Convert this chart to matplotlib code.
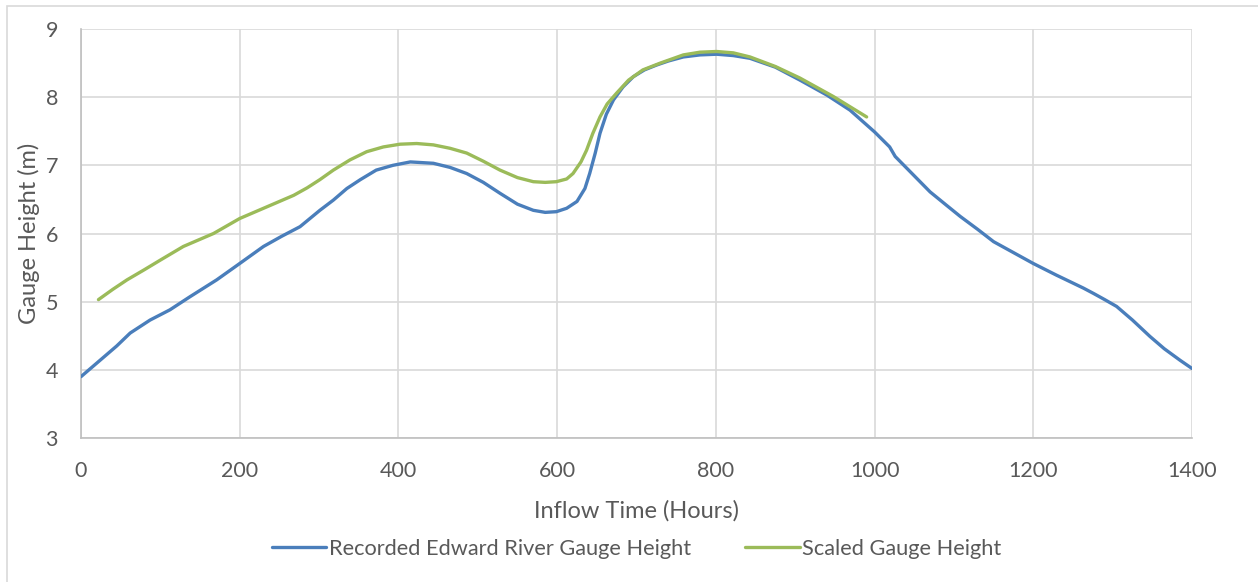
import matplotlib
matplotlib.use("Agg")
import matplotlib.pyplot as plt
from matplotlib.patches import Rectangle

hours_recorded = [0, 24, 45, 62, 87, 112, 137, 171, 200, 230, 253, 276, 301, 318, 335,
                  352, 372, 393, 415, 444, 465, 486, 507, 528, 550, 570, 585, 599, 612,
                  625, 635, 641, 648, 654, 662, 671, 683, 696, 710, 725, 740, 759, 780,
                  801, 822, 843, 875, 906, 940, 969, 1000, 1019, 1026, 1048, 1070, 1090,
                  1108, 1130, 1150, 1175, 1200, 1229, 1263, 1276, 1290, 1305, 1325, 1347,
                  1365, 1385, 1400]
gauge_recorded = [3.90, 4.14, 4.35, 4.54, 4.73, 4.88, 5.07, 5.32, 5.56, 5.81, 5.96, 6.10,
                  6.34, 6.49, 6.66, 6.79, 6.93, 7.00, 7.05, 7.03, 6.97, 6.88, 6.75, 6.59,
                  6.43, 6.34, 6.31, 6.32, 6.37, 6.47, 6.66, 6.88, 7.18, 7.47, 7.75, 7.96,
                  8.15, 8.30, 8.40, 8.47, 8.53, 8.59, 8.62, 8.63, 8.61, 8.57, 8.44, 8.25,
                  8.03, 7.81, 7.49, 7.27, 7.13, 6.87, 6.61, 6.42, 6.25, 6.06, 5.88, 5.72,
                  5.56, 5.39, 5.20, 5.12, 5.03, 4.93, 4.73, 4.49, 4.31, 4.14, 4.02]

hours_scaled = [22, 40, 58, 80, 100, 129, 167, 200, 234, 268, 285, 301, 318, 339, 360,
                381, 402, 423, 444, 465, 486, 507, 528, 550, 570, 585, 599, 612, 620,
                630, 637, 645, 654, 663, 675, 690, 708, 730, 759, 780, 801, 822, 843,
                875, 906, 948, 990]
gauge_scaled = [5.03, 5.18, 5.32, 5.47, 5.61, 5.81, 6.00, 6.22, 6.39, 6.56, 6.67, 6.79,
                6.93, 7.08, 7.20, 7.27, 7.31, 7.32, 7.30, 7.25, 7.18, 7.06, 6.93, 6.82,
                6.76, 6.75, 6.76, 6.80, 6.88, 7.05, 7.22, 7.47, 7.71, 7.90, 8.06, 8.25,
                8.40, 8.50, 8.62, 8.66, 8.67, 8.65, 8.59, 8.45, 8.28, 8.01, 7.71]

x_ticks = [0, 200, 400, 600, 800, 1000, 1200, 1400]
y_ticks = [3, 4, 5, 6, 7, 8, 9]

FONT = ["Lato", "DejaVu Sans"]
TXT = "#595959"
GRID = "#d9d9d9"

W, H = 1258, 582
fig = plt.figure(figsize=(W / 100, H / 100), dpi=100)
fig.patches.append(Rectangle((7 / W, -0.1), 1.2, 1 - 6 / H + 0.1, transform=fig.transFigure,
                             fill=False, edgecolor=GRID, linewidth=1.2))

ax = fig.add_axes([81 / W, 1 - 438 / H, (1192 - 81) / W, (438 - 29) / H])
ax.plot(hours_recorded, gauge_recorded, color="#4a7ebb", lw=2.4,
        label="Recorded Edward River Gauge Height", solid_capstyle="round",
        solid_joinstyle="round", zorder=3)
ax.plot(hours_scaled, gauge_scaled, color="#9bbb59", lw=2.4,
        label="Scaled Gauge Height", solid_capstyle="round",
        solid_joinstyle="round", zorder=4)

ax.set_xlim(0, 1400)
ax.set_ylim(3, 9)
ax.set_xticks(x_ticks)
ax.set_yticks(y_ticks)
ax.grid(True, color=GRID, lw=1.2)
ax.set_axisbelow(True)
for s in ["top", "right"]:
    ax.spines[s].set_visible(False)
for s in ["left", "bottom"]:
    ax.spines[s].set_color("#bfbfbf")
    ax.spines[s].set_linewidth(1.2)
ax.tick_params(axis="x", length=0, labelsize=15.5, labelcolor=TXT, pad=16.5)
ax.tick_params(axis="y", length=0, labelsize=15.5, labelcolor=TXT, pad=16.5)
for lab in ax.get_xticklabels() + ax.get_yticklabels():
    lab.set_family(FONT)

ax.set_xlabel("Inflow Time (Hours)", fontsize=17, color=TXT, family=FONT, labelpad=14)
ax.set_ylabel("Gauge Height (m)", fontsize=17, color=TXT, family=FONT, labelpad=4)

leg = fig.legend(loc="center", bbox_to_anchor=(0.506, 1 - 549 / H), ncol=2, frameon=False,
                 prop={"family": FONT, "size": 15.7}, handlelength=2.5, handletextpad=0.1,
                 columnspacing=2.5)
for t in leg.get_texts():
    t.set_color(TXT)

fig.savefig("out.png", dpi=100)
